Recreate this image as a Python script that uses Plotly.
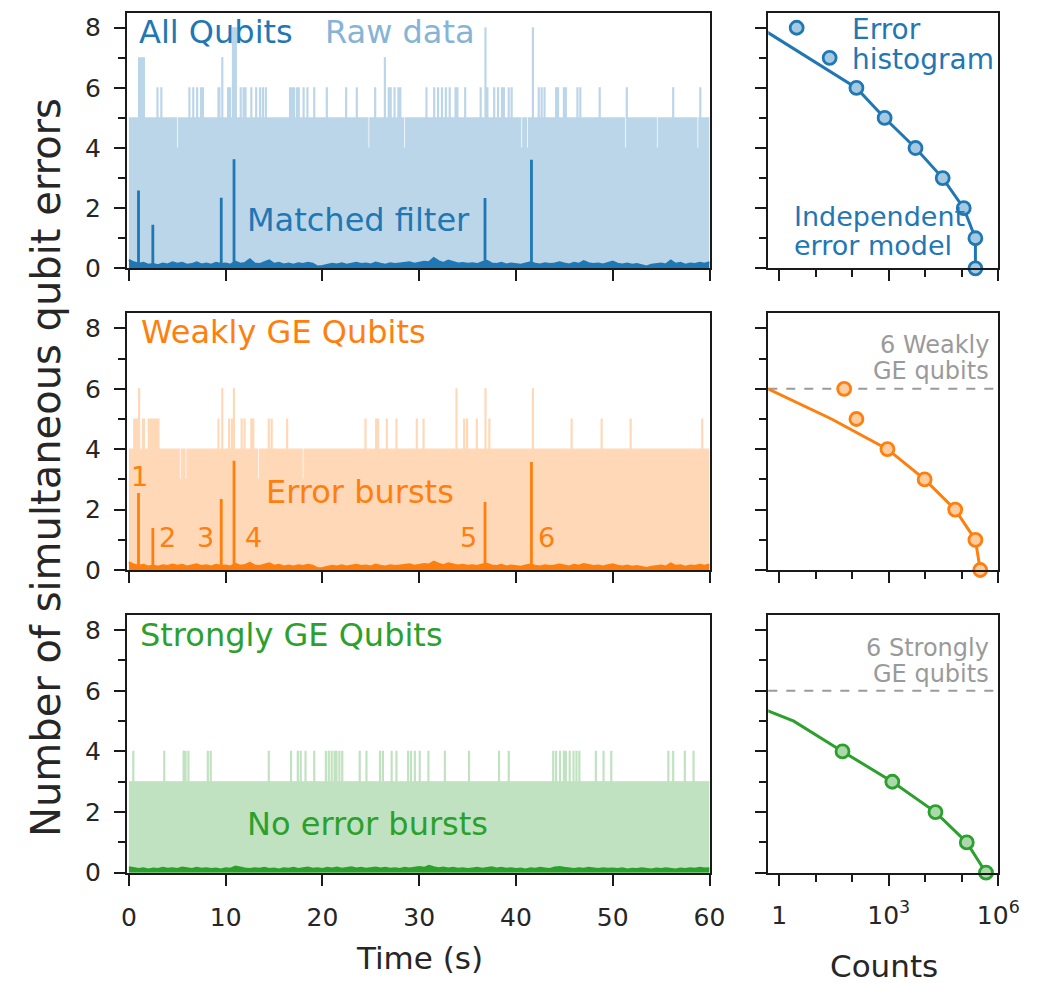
import numpy as np
import plotly.graph_objects as go

# ---------------- data ----------------
time_ticks = [0, 10, 20, 30, 40, 50, 60]
y_ticks = [0, 2, 4, 6, 8]

# Raw data (All qubits): baseline level and excursions (times in s)
raw_all_base = 5
raw_all_t6 = [2.87, 3.34, 6.25, 6.57, 7.05, 7.44, 7.64, 9.16, 9.32, 10.23, 10.43, 11.54, 11.82,
              12.02, 12.62, 13.1, 13.5, 13.8, 14.1, 16.6, 16.7, 16.8, 17.0, 17.3, 17.5, 18.0, 18.4,
              19.1, 20.4, 22.4, 23.5, 25.4, 26.75, 26.95, 27.35, 27.75, 27.95, 30.7, 31.5, 31.9,
              32.3, 32.7, 33.1, 33.7, 33.9, 34.7, 36.3, 37.0, 37.7, 38.1, 38.5, 38.7, 39.2, 39.5,
              42.3, 42.6, 42.9, 44.1, 44.3, 44.9, 45.1, 46.3, 46.6, 48.6, 51.4, 56.2, 59.0]
raw_all_t7 = [1.0, 1.1, 1.2, 1.3, 1.4, 1.5, 9.55, 26.35]
raw_all_t8 = [10.7, 10.8, 10.9, 11.0, 36.8, 41.7]
raw_all_dips4 = [4.94, 24.7, 28.4, 40.5, 41.1, 51.2, 54.5, 58.7]

# Raw data (Weakly GE qubits)
raw_weak_base = 4
raw_weak_t5 = [0.5, 0.6, 0.7, 0.8, 1.35, 1.51, 2.0, 2.1, 2.2, 2.3, 2.4, 2.5, 2.6, 2.7, 2.8, 2.9,
               3.0, 9.16, 10.35, 10.63, 11.62, 11.94, 12.62, 12.82, 14.41, 14.73, 16.28, 24.36,
               25.48, 25.68, 26.55, 27.55, 29.66, 30.45, 34.6, 34.9, 35.9, 37.22, 45.66, 48.84,
               51.83, 59.2]
raw_weak_t6 = [0.96, 9.55, 10.83, 33.8, 36.8, 41.7]
raw_weak_dips3 = [5.25, 5.85, 13.3, 17.87]

# Raw data (Strongly GE qubits)
raw_strong_base = 3
raw_strong_t4 = [0.4, 3.58, 5.57, 5.85, 6.13, 8.12, 8.44, 14.41, 16.72, 17.4, 17.68, 18.19, 19.11,
                 20.3, 20.58, 20.86, 21.18, 21.38, 21.66, 21.97, 23.77, 24.48, 25.88, 26.19, 27.07,
                 27.55, 28.82, 29.14, 29.46, 30.02, 30.93, 32.64, 35.11, 38.18, 39.2, 43.79, 44.15,
                 44.55, 44.86, 45.14, 45.46, 45.86, 46.18, 46.5, 48.25, 48.96, 49.84, 55.69, 56.2,
                 57.4, 58.32]

# Matched filter: baseline trace sampled every 0.5 s, plus burst peaks
mf_step = 0.5
mf_all_noise = [0.28, 0.2, 0.15, 0.18, 0.12, 0.14, 0.1, 0.16, 0.13, 0.2,
                0.15, 0.18, 0.12, 0.14, 0.2, 0.13, 0.16, 0.12, 0.18, 0.14,
                0.16, 0.12, 0.22, 0.15, 0.18, 0.3, 0.16, 0.14, 0.2, 0.26,
                0.15, 0.18, 0.13, 0.16, 0.12, 0.17, 0.14, 0.18, 0.15, 0.06,
                0.08, 0.12, 0.15, 0.13, 0.17, 0.12, 0.15, 0.18, 0.14, 0.16,
                0.13, 0.19, 0.15, 0.12, 0.17, 0.14, 0.16, 0.18, 0.2, 0.15,
                0.18, 0.22, 0.2, 0.34, 0.24, 0.18, 0.26, 0.2, 0.16, 0.18,
                0.15, 0.17, 0.14, 0.2, 0.25, 0.16, 0.14, 0.18, 0.13, 0.16,
                0.14, 0.12, 0.16, 0.2, 0.15, 0.13, 0.17, 0.14, 0.16, 0.2,
                0.16, 0.13, 0.18, 0.15, 0.24, 0.17, 0.14, 0.16, 0.13, 0.17,
                0.22, 0.15, 0.13, 0.16, 0.12, 0.14, 0.1, 0.06, 0.12, 0.14,
                0.16, 0.13, 0.26, 0.15, 0.18, 0.12, 0.16, 0.14, 0.18, 0.15,
                0.2]
mf_weak_noise = [0.26, 0.18, 0.14, 0.17, 0.12, 0.15, 0.11, 0.16, 0.13, 0.18,
                 0.14, 0.17, 0.12, 0.15, 0.19, 0.13, 0.16, 0.12, 0.17, 0.14,
                 0.15, 0.12, 0.2, 0.14, 0.17, 0.24, 0.15, 0.13, 0.18, 0.22,
                 0.14, 0.17, 0.12, 0.15, 0.12, 0.16, 0.13, 0.17, 0.14, 0.06,
                 0.07, 0.11, 0.14, 0.12, 0.16, 0.12, 0.14, 0.17, 0.13, 0.15,
                 0.12, 0.18, 0.14, 0.12, 0.16, 0.13, 0.15, 0.17, 0.19, 0.14,
                 0.17, 0.2, 0.18, 0.28, 0.21, 0.16, 0.22, 0.18, 0.15, 0.17,
                 0.14, 0.16, 0.13, 0.18, 0.21, 0.15, 0.13, 0.17, 0.12, 0.15,
                 0.13, 0.11, 0.15, 0.18, 0.14, 0.12, 0.16, 0.13, 0.15, 0.18,
                 0.15, 0.12, 0.17, 0.14, 0.2, 0.16, 0.13, 0.15, 0.12, 0.16,
                 0.19, 0.14, 0.12, 0.15, 0.11, 0.13, 0.1, 0.07, 0.11, 0.13,
                 0.15, 0.12, 0.22, 0.14, 0.16, 0.11, 0.15, 0.13, 0.17, 0.14,
                 0.18]
mf_strong_noise = [0.18, 0.14, 0.12, 0.15, 0.11, 0.14, 0.12, 0.16, 0.13, 0.15,
                   0.12, 0.17, 0.14, 0.12, 0.16, 0.13, 0.15, 0.12, 0.14, 0.11,
                   0.15, 0.13, 0.2, 0.16, 0.14, 0.12, 0.15, 0.13, 0.16, 0.12,
                   0.14, 0.11, 0.15, 0.13, 0.16, 0.12, 0.14, 0.17, 0.13, 0.15,
                   0.12, 0.16, 0.14, 0.17, 0.13, 0.15, 0.18, 0.14, 0.16, 0.13,
                   0.15, 0.17, 0.14, 0.16, 0.13, 0.15, 0.12, 0.16, 0.14, 0.17,
                   0.19, 0.16, 0.23, 0.18, 0.15, 0.17, 0.14, 0.16, 0.13, 0.15,
                   0.12, 0.14, 0.16, 0.13, 0.15, 0.18, 0.14, 0.16, 0.13, 0.15,
                   0.12, 0.14, 0.11, 0.15, 0.13, 0.16, 0.14, 0.12, 0.17, 0.19,
                   0.16, 0.14, 0.12, 0.15, 0.13, 0.16, 0.14, 0.12, 0.15, 0.13,
                   0.14, 0.12, 0.15, 0.11, 0.13, 0.12, 0.15, 0.13, 0.11, 0.14,
                   0.12, 0.15, 0.13, 0.11, 0.14, 0.12, 0.15, 0.13, 0.16, 0.14,
                   0.15]
burst_t = [0.99, 2.47, 9.54, 10.86, 36.8, 41.6]
burst_all_h = [2.59, 1.45, 2.35, 3.63, 2.34, 3.61]
burst_weak_h = [2.55, 1.39, 2.35, 3.62, 2.25, 3.58]
burst_labels = ["1", "2", "3", "4", "5", "6"]

# Error histograms (number of simultaneous errors vs counts)
hist_all_n = [0, 1, 2, 3, 4, 5, 6, 7, 8]
hist_all_counts = [2.36e5, 2.36e5, 1.13e5, 3.0e4, 5.4e3, 7.7e2, 1.3e2, 24, 3]
model_all_n = [0, 1, 2, 3, 4, 5, 6, 7, 8]
model_all_counts = [2.36e5, 2.36e5, 1.13e5, 3.0e4, 5.4e3, 7.7e2, 1.3e2, 6, 0.3]

hist_weak_n = [0, 1, 2, 3, 4, 5, 6]
hist_weak_counts = [3.2e5, 2.36e5, 6.6e4, 9.6e3, 9.2e2, 1.3e2, 60]
model_weak_n = [0, 1, 2, 3, 4, 5, 6]
model_weak_counts = [3.2e5, 2.36e5, 6.6e4, 9.6e3, 9.2e2, 27, 0.49]

hist_strong_n = [0, 1, 2, 3, 4]
hist_strong_counts = [4.6e5, 1.37e5, 1.9e4, 1.25e3, 54]
model_strong_n = [0, 1, 2, 3, 4, 5, 6]
model_strong_counts = [4.6e5, 1.37e5, 1.9e4, 1.25e3, 54, 2.5, 0.02]

n_weak_qubits = 6
n_strong_qubits = 6

count_tickvals = [1, 1e3, 1e6]
count_ticktext = ["1", "10<sup>3</sup>", "10<sup>6</sup>"]
count_minor = [10, 100, 1e4, 1e5]

# ---------------- style ----------------
PAGE_W, PAGE_H = 1042, 983
OFF = 8  # default page body margin
W, H = PAGE_W - OFF, PAGE_H - OFF
FONT = "DejaVu Sans"
INK = "#1a1a1a"
TXT = "#262626"
BLUE, ORANGE, GREEN = "#1f77b4", "#ff7f0e", "#2ca02c"
RAW = {"b": "#bcd6e9", "o": "#ffd8b7", "g": "#c0e2c0"}
FACE = {"b": "#a5c9e1", "o": "#ffcc9f", "g": "#abd9ab"}
GRAY = "#9a9a9a"

rows_px = [(12.7, 268.3), (313.3, 570.0), (615.0, 872.7)]
left_px = (127.0, 709.5)
right_px = (768.3, 998.3)


def fx(px):
    return (px - OFF) / W


def fy(py):
    return 1 - (py - OFF) / H


def xdom(a, b):
    return [fx(a), fx(b)]


def ydom(top, bot):
    return [fy(bot), fy(top)]


def envelope(base, ups, downs):
    dt = 0.1
    t = np.round(np.arange(0, 601) * dt, 2)
    y = np.full(t.shape, float(base))
    for times, lev in ups:
        for tt in times:
            i = int(round(tt / dt))
            y[i] = max(y[i], lev)
    for times, lev in downs:
        for tt in times:
            i = int(round(tt / dt))
            for j in (i, i + 1):
                if j < len(y) and y[j] == base:
                    y[j] = lev
    return t, y


def spikes(ts, hs):
    xs, ys = [], []
    for t, h in zip(ts, hs):
        xs += [t, t, None]
        ys += [0, h, None]
    return xs, ys


fig = go.Figure()

panels = [
    ("b", BLUE, envelope(raw_all_base, [(raw_all_t6, 6), (raw_all_t7, 7), (raw_all_t8, 8)],
                          [(raw_all_dips4, 4)]), mf_all_noise, burst_all_h,
     hist_all_n, hist_all_counts, model_all_n, model_all_counts),
    ("o", ORANGE, envelope(raw_weak_base, [(raw_weak_t5, 5), (raw_weak_t6, 6)],
                            [(raw_weak_dips3, 3)]), mf_weak_noise, burst_weak_h,
     hist_weak_n, hist_weak_counts, model_weak_n, model_weak_counts),
    ("g", GREEN, envelope(raw_strong_base, [(raw_strong_t4, 4)], []), mf_strong_noise, None,
     hist_strong_n, hist_strong_counts, model_strong_n, model_strong_counts),
]

for r, (key, col, (rt, ry), noise, bh, hn, hc, mn, mc) in enumerate(panels):
    xl = "x" if r == 0 else f"x{2 * r + 1}"
    yl = "y" if r == 0 else f"y{2 * r + 1}"
    xr = f"x{2 * r + 2}"
    yr = f"y{2 * r + 2}"
    fig.add_trace(go.Scatter(x=rt, y=ry, mode="lines", line=dict(color=RAW[key], width=1.2, shape="hv"),
                             fill="tozeroy", fillcolor=RAW[key], xaxis=xl, yaxis=yl, hoverinfo="skip"))
    nt = np.arange(len(noise)) * mf_step
    fig.add_trace(go.Scatter(x=nt, y=noise, mode="lines", line=dict(color=col, width=2),
                             fill="tozeroy", fillcolor=col, xaxis=xl, yaxis=yl, hoverinfo="skip"))
    if bh is not None:
        sx, sy = spikes(burst_t, bh)
        fig.add_trace(go.Scatter(x=sx, y=sy, mode="lines", line=dict(color=col, width=2.8),
                                 xaxis=xl, yaxis=yl, hoverinfo="skip"))
    fig.add_trace(go.Scatter(x=mc, y=mn, mode="lines", line=dict(color=col, width=3),
                             xaxis=xr, yaxis=yr, cliponaxis=True))
    fig.add_trace(go.Scatter(x=hc, y=hn, mode="markers",
                             marker=dict(size=13, color=FACE[key], line=dict(color=col, width=2.8)),
                             xaxis=xr, yaxis=yr, cliponaxis=False))

axis_common = dict(showline=True, mirror=True, linecolor=INK, linewidth=2, ticks="outside",
                   ticklen=11, tickwidth=2, tickcolor=INK, showgrid=False, zeroline=False,
                   automargin=False,
                   tickfont=dict(family=FONT, size=25, color=TXT))

layout = dict(width=W, height=H, margin=dict(l=0, r=0, t=0, b=0), showlegend=False,
              paper_bgcolor="white", plot_bgcolor="white")

for r, (top, bot) in enumerate(rows_px):
    last = r == 2
    xl = "xaxis" if r == 0 else f"xaxis{2 * r + 1}"
    yl = "yaxis" if r == 0 else f"yaxis{2 * r + 1}"
    xr = f"xaxis{2 * r + 2}"
    yr = f"yaxis{2 * r + 2}"
    ylname = "y" if r == 0 else f"y{2 * r + 1}"
    xlname = "x" if r == 0 else f"x{2 * r + 1}"
    layout[xl] = dict(axis_common, domain=xdom(*left_px), range=[-0.2, 60], anchor=ylname,
                      tickvals=time_ticks, showticklabels=last, ticklabelstandoff=10)
    layout[yl] = dict(axis_common, domain=ydom(top, bot), range=[0, 8.5], anchor=xlname,
                      tickvals=y_ticks, ticklabelstandoff=8,
                      minor=dict(tickvals=[1, 3, 5, 7], ticklen=7, tickwidth=2, tickcolor=INK))
    layout[xr] = dict(axis_common, domain=xdom(*right_px), type="log", range=[-0.3, 6.0],
                      anchor=f"y{2 * r + 2}", tickvals=count_tickvals, ticktext=count_ticktext,
                      showticklabels=last, ticklabelstandoff=8,
                      minor=dict(tickvals=count_minor, ticklen=7, tickwidth=2, tickcolor=INK))
    layout[yr] = dict(axis_common, domain=ydom(top, bot), range=[0, 8.5], anchor=f"x{2 * r + 2}",
                      tickvals=y_ticks, showticklabels=False,
                      minor=dict(tickvals=[1, 3, 5, 7], ticklen=7, tickwidth=2, tickcolor=INK))

fig.update_layout(**layout)

# reference lines for number of GE qubits
for yref, nq in (("y4", n_weak_qubits), ("y6", n_strong_qubits)):
    fig.add_shape(type="line", xref=yref.replace("y", "x") + " domain", yref=yref, x0=0, x1=1,
                  y0=nq, y1=nq, line=dict(color=GRAY, width=2, dash="dash"), layer="below")

anns = []


def ann(text, xref, yref, x, y, size, color, xanchor="left", yanchor="middle", **kw):
    anns.append(dict(text=text, xref=xref, yref=yref, x=x, y=y, showarrow=False,
                     xanchor=xanchor, yanchor=yanchor,
                     font=dict(family=FONT, size=size, color=color), **kw))


ann("All Qubits", "x", "y", 0.85, 7.86, 32, BLUE)
ann("Raw data", "x", "y", 20.1, 7.86, 32, "#86b4d6")
ann("Matched filter", "x", "y", 12.0, 1.6, 32, BLUE)
ann("Weakly GE Qubits", "x3", "y3", 1.0, 7.87, 32, ORANGE)
ann("Error bursts", "x3", "y3", 14.0, 2.59, 32, ORANGE)
burst_lab_pos = [(1.07, 3.1), (3.95, 1.06), (7.95, 1.06), (12.9, 1.06), (35.1, 1.06), (43.2, 1.06)]
for lab, (bx, by) in zip(burst_labels, burst_lab_pos):
    ann(lab, "x3", "y3", bx, by, 27, ORANGE, xanchor="center")
ann("Strongly GE Qubits", "x5", "y5", 0.9, 7.84, 32, GREEN)
ann("No error bursts", "x5", "y5", 12.0, 1.6, 32, GREEN)

ann("Error", "x2", "y2", 1.93, 7.95, 28, BLUE)
ann("histogram", "x2", "y2", 1.93, 6.95, 28, BLUE)
ann("Independent", "x2", "y2", 0.34, 1.71, 27, BLUE)
ann("error model", "x2", "y2", 0.34, 0.75, 27, BLUE)
ann(f"{n_weak_qubits} Weakly", "x4", "y4", 5.8, 7.45, 24, GRAY, xanchor="right")
ann("GE qubits", "x4", "y4", 5.8, 6.59, 24, GRAY, xanchor="right")
ann(f"{n_strong_qubits} Strongly", "x6", "y6", 5.8, 7.4, 24, GRAY, xanchor="right")
ann("GE qubits", "x6", "y6", 5.8, 6.55, 24, GRAY, xanchor="right")

ann("Time (s)", "paper", "paper", fx(419), fy(958), 31, TXT, xanchor="center")
ann("Counts", "paper", "paper", fx(884), fy(966), 31, TXT, xanchor="center")
ann("Number of simultaneous qubit errors", "paper", "paper", fx(46), fy(468), 40, TXT,
    xanchor="center", textangle=-90)

fig.update_layout(annotations=anns)
fig.write_html("out.html")
